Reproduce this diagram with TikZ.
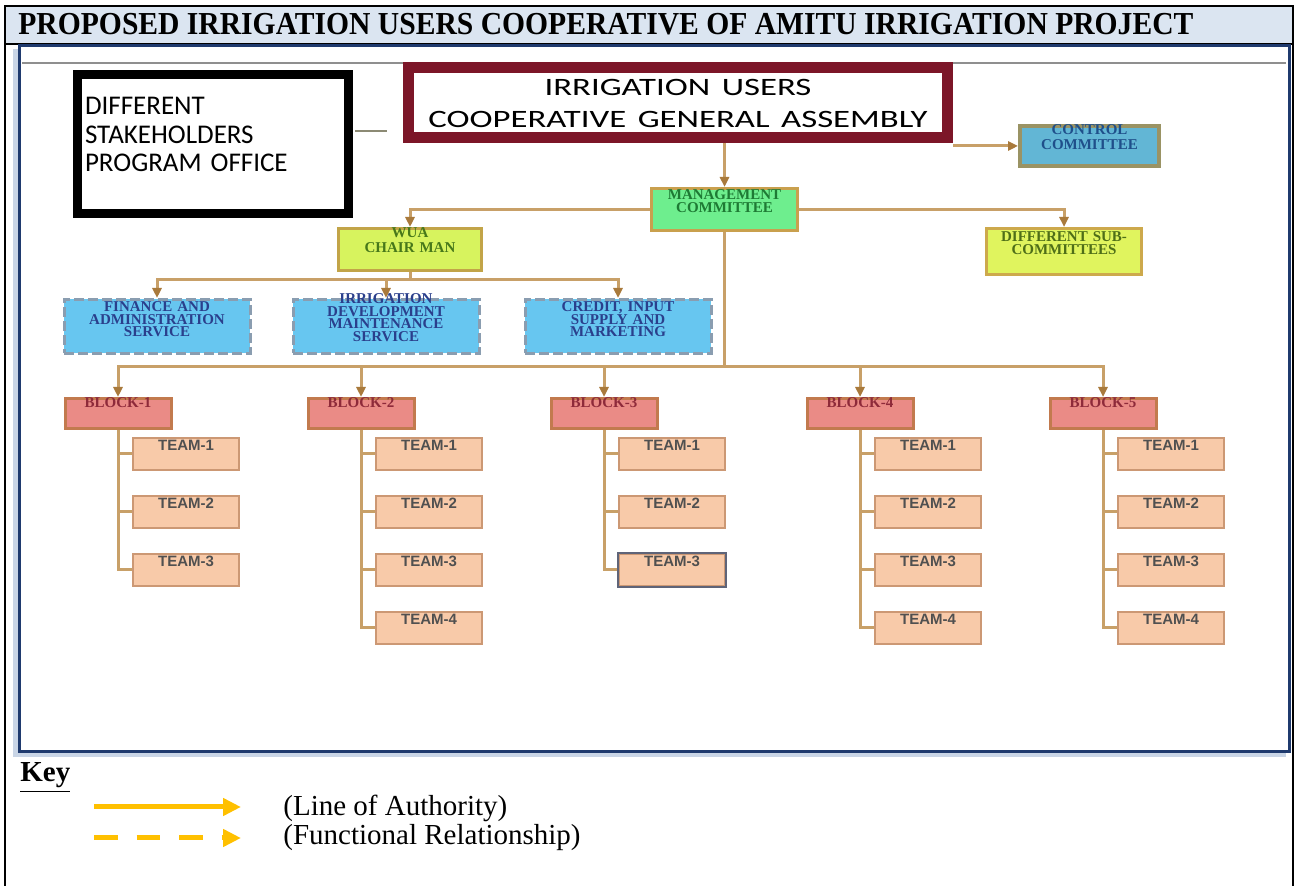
\documentclass[tikz,border=0pt]{standalone}
\usepackage{fontspec}
\setmainfont{Liberation Serif}
\newfontfamily\carlitofont{Carlito}
\newfontfamily\teamfont{Liberation Sans}
\usetikzlibrary{arrows.meta}

\definecolor{titlebg}{HTML}{DBE5F1}
\definecolor{navy}{HTML}{1F3A6E}
\definecolor{shadowblue}{HTML}{C9D5E6}
\definecolor{rulegray}{HTML}{8F8F8F}
\definecolor{asmred}{HTML}{7C1628}
\definecolor{stakeline}{HTML}{8C8A74}
\definecolor{conn}{HTML}{C8A068}
\definecolor{tip}{HTML}{A97A3C}
\definecolor{ctrlfill}{HTML}{62B6D5}
\definecolor{ctrldraw}{HTML}{9A9364}
\definecolor{ctrltext}{HTML}{1F4F8A}
\definecolor{mgmtfill}{HTML}{6EEE8E}
\definecolor{mgmtdraw}{HTML}{C9A04E}
\definecolor{mgmttext}{HTML}{1E7A34}
\definecolor{chairfill}{HTML}{D7F35E}
\definecolor{chairdraw}{HTML}{C2A448}
\definecolor{chairtext}{HTML}{47781A}
\definecolor{subfill}{HTML}{E0F45E}
\definecolor{subdraw}{HTML}{CDA94C}
\definecolor{subtext}{HTML}{4E6E18}
\definecolor{servfill}{HTML}{67C6F0}
\definecolor{servdraw}{HTML}{8A9DB0}
\definecolor{servtext}{HTML}{2A3F8C}
\definecolor{blockfill}{HTML}{EA8B86}
\definecolor{blockdraw}{HTML}{C27A4E}
\definecolor{blocktext}{HTML}{8E2A3A}
\definecolor{teamfill}{HTML}{F8CAA9}
\definecolor{teamdraw}{HTML}{CC9874}
\definecolor{teamtext}{HTML}{505050}
\definecolor{oddframe}{HTML}{5F6478}
\definecolor{keyorange}{HTML}{FFC000}

\begin{document}
\begin{tikzpicture}
  [x=0.5pt,y=-0.5pt,
   link/.style={draw=conn,line width=1.5pt},
   authority/.style={link,-{Triangle[length=5pt,width=4.5pt,color=tip]}},
   chartbox/.style={rectangle,inner xsep=1pt,inner ysep=0pt,align=center,
     font=\fontsize{7.5}{6.5}\selectfont\bfseries},
   stakebox/.style={draw=black,line width=4.5pt,inner xsep=4pt,inner ysep=0pt,
     text width=127.75pt,align=left,text height=20.25pt,text depth=49.25pt,
     font=\carlitofont\fontsize{13.5}{14.25}\selectfont},
   assemblybox/.style={draw=asmred,fill=white,line width=5.5pt,inner xsep=2pt,inner ysep=0pt,
     text width=265.5pt,align=center,text height=14.25pt,text depth=20.75pt,
     font=\carlitofont\fontsize{12.5}{16}\selectfont},
   controlbox/.style={chartbox,fill=ctrlfill,draw=ctrldraw,line width=2pt,text=ctrltext,
     text width=67.5pt,text height=4.5pt,text depth=15.5pt,
     font=\fontsize{7.5}{7.5}\selectfont\bfseries},
   mgmtbox/.style={chartbox,fill=mgmtfill,draw=mgmtdraw,line width=1.5pt,text=mgmttext,
     text width=71pt,text height=5.75pt,text depth=15.25pt},
   chairbox/.style={chartbox,fill=chairfill,draw=chairdraw,line width=1.5pt,text=chairtext,
     text width=69.5pt,text height=4.75pt,text depth=16.25pt,
     font=\fontsize{7.5}{7.5}\selectfont\bfseries},
   subbox/.style={chartbox,fill=subfill,draw=subdraw,line width=1.5pt,text=subtext,
     text width=75.5pt,text height=6.75pt,text depth=16.25pt},
   servbox/.style={chartbox,fill=servfill,draw=servdraw,line width=1.5pt,text=servtext,
     dash pattern=on 5pt off 2pt,text width=91pt,text height=6.25pt,text depth=20.75pt,
     font=\fontsize{7.5}{6.2}\selectfont\bfseries},
   blockbox/.style={chartbox,fill=blockfill,draw=blockdraw,line width=1.5pt,text=blocktext,
     minimum width=53pt,text height=4.75pt,text depth=10.25pt,
     font=\fontsize{7.5}{7.5}\selectfont\bfseries},
   teambox/.style={chartbox,fill=teamfill,draw=teamdraw,line width=1pt,text=teamtext,
     minimum width=53pt,text height=6.5pt,text depth=9.5pt,
     font=\teamfont\fontsize{7.5}{7.5}\selectfont\bfseries},
   keyline/.style={draw=keyorange,line width=2.5pt,-{Triangle[length=9pt,width=8.5pt]}}]
\useasboundingbox (0,0) rectangle (1296,886);

% table frame and title row
\fill[titlebg] (5,7) rectangle (1293,43);
\draw[black,line width=1pt] (5,886) -- (5,6) -- (1293,6) -- (1293,886);
\draw[black,line width=1pt] (5,44) -- (1293,44);
\node[anchor=base west,inner sep=0pt,font=\fontsize{16}{18}\selectfont\bfseries] (title) at (18,35)
  {\scalebox{0.925}[1]{PROPOSED IRRIGATION USERS COOPERATIVE OF AMITU IRRIGATION PROJECT}};

% chart frame
\fill[shadowblue] (13,49) rectangle (1286,757);
\draw[navy,fill=white,line width=1.5pt] (19,46) rectangle (1289,752);
\draw[rulegray,line width=1pt] (22,63) -- (1286,63);

% top level
\node[stakebox] (stake) at (212.75,144) {DIFFERENT\\STAKEHOLDERS\\PROGRAM OFFICE};
\node[assemblybox] (assembly) at (678,102.5)
  {\scalebox{1.39}[1]{IRRIGATION USERS}\\\scalebox{1.39}[1]{COOPERATIVE GENERAL ASSEMBLY}};
\node[controlbox] (control) at (1089.5,146) {CONTROL\\COMMITTEE};
\node[mgmtbox] (mgmt) at (724.5,209.5) {MANAGEMENT\\COMMITTEE};
\node[chairbox] (chair) at (410,249.5) {WUA\\CHAIR MAN};
\node[subbox] (subcom) at (1064,251.5) {DIFFERENT SUB-\\COMMITTEES};

\draw[stakeline,line width=1pt,shorten <=1pt,shorten >=8pt]
  ([yshift=6.5pt]stake.east) -- ([yshift=6.5pt]stake.east -| assembly.west);
\draw[authority] (assembly.south -| mgmt.north) -- (mgmt.north);
\draw[authority] (assembly.south east |- control.west) -- (control.west);
\draw[authority] (mgmt.west) -| (chair.north);
\draw[authority] (mgmt.east) -| (subcom.north);

% services
\node[servbox] (serv1) at (157,326.5) {FINANCE AND\\ADMINISTRATION\\SERVICE};
\node[servbox,text height=2.25pt,text depth=24.75pt] (serv2) at (386,326.5)
  {IRRIGATION\\DEVELOPMENT\\MAINTENANCE\\SERVICE};
\node[servbox] (serv3) at (618,326.5) {CREDIT, INPUT\\SUPPLY AND\\MARKETING};

\coordinate (sbus) at (410,280);
\draw[link] (chair.south) -- (sbus);
\foreach \s in {1,2,3}
  \draw[authority] (sbus) -| (serv\s.north);

% blocks and teams
\coordinate (bus) at (724.5,367);
\draw[link] (mgmt.south) -- (bus);
\foreach \b/\x/\n in {1/118/3,2/361/4,3/604/3,4/860/4,5/1103/4}{
  \node[blockbox] (blk\b) at (\x,413.5) {BLOCK-\b};
  \draw[authority] (bus) -| (blk\b.north);
  \foreach \t in {1,...,\n}{
    \node[teambox] (tm\b\t) at ({\x+68},{396+58*\t}) {TEAM-\t};
    \draw[link] (blk\b.south) |- (tm\b\t.west);
  }
}
\draw[oddframe,line width=1pt] (tm33.south west) rectangle (tm33.north east);

% key
\node[anchor=base west,inner sep=0pt,font=\fontsize{14.5}{17}\selectfont\bfseries] (key) at (20,782) {\underline{Key}};
\coordinate (solidA) at (94,807);
\coordinate (solidB) at (241,807);
\coordinate (dashA) at (94,838);
\coordinate (dashB) at (241,838);
\draw[keyline] (solidA) -- (solidB);
\draw[keyline,dash pattern=on 11.75pt off 9.5pt] (dashA) -- (dashB);
\node[anchor=base west,inner sep=0pt,font=\fontsize{14.5}{17}\selectfont] (authkey) at (283,816) {(Line of Authority)};
\node[anchor=base west,inner sep=0pt,font=\fontsize{14.5}{17}\selectfont] (funckey) at (283,845) {(Functional Relationship)};
\end{tikzpicture}
\end{document}
